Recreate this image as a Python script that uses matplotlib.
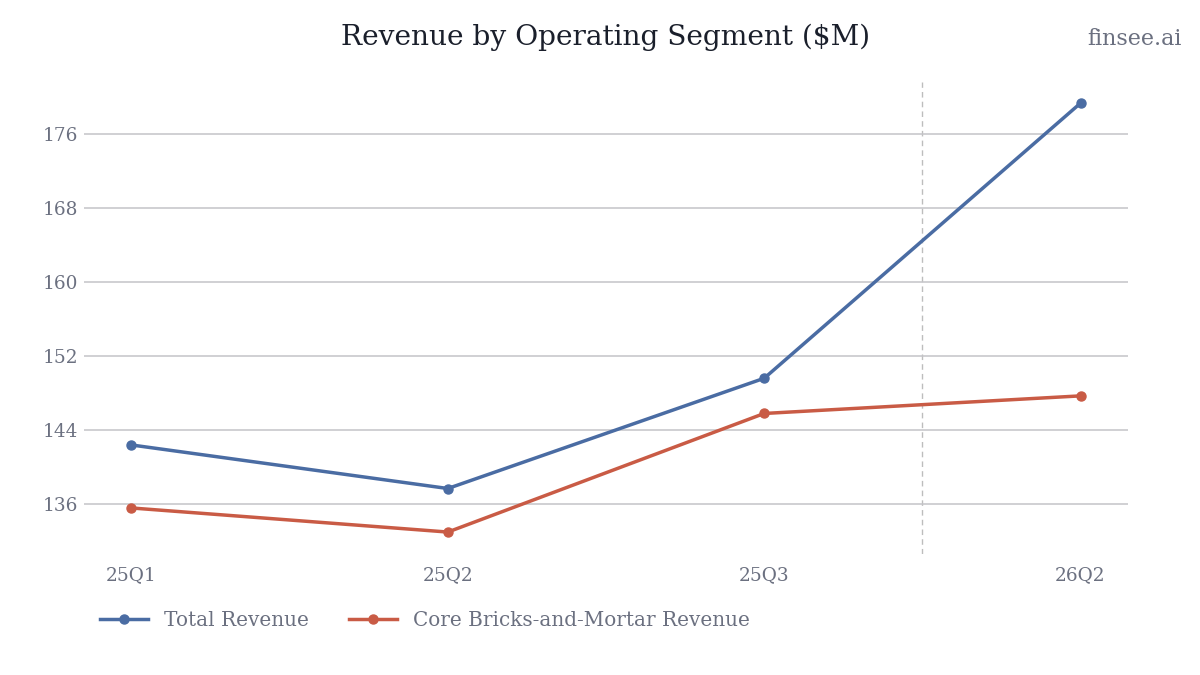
import matplotlib
matplotlib.use("Agg")
import matplotlib.pyplot as plt

quarters = ["25Q1", "25Q2", "25Q3", "26Q2"]
total_revenue = [142.4, 137.7, 149.6, 179.3]
core_revenue = [135.6, 133.0, 145.8, 147.7]
y_ticks = [136, 144, 152, 160, 168, 176]

BLUE = "#4a6ca3"
RED = "#c95b45"
GREY_TXT = "#6b7080"

plt.rcParams["font.family"] = ["DejaVu Serif"]

fig = plt.figure(figsize=(12, 6.75), dpi=100)
ax = fig.add_axes([0.07, 0.18, 0.87, 0.699])

x = list(range(len(quarters)))
ax.plot(x, total_revenue, color=BLUE, linewidth=2.5, marker="o", markersize=6.5,
        label="Total Revenue")
ax.plot(x, core_revenue, color=RED, linewidth=2.5, marker="o", markersize=6.5,
        label="Core Bricks-and-Mortar Revenue")

# separator between reported and latest quarter
ax.axvline(2.5, color="#bdbdbd", linewidth=1, linestyle=(0, (4, 3)), zorder=0)

ax.set_xticks(x)
ax.set_xticklabels(quarters)
ax.set_yticks(y_ticks)
ax.tick_params(axis="both", length=0, labelsize=13.3, labelcolor=GREY_TXT)
ax.tick_params(axis="x", pad=9)
ax.tick_params(axis="y", pad=4)
ax.grid(axis="y", color="#c4c4c8", linewidth=1.1)
ax.set_axisbelow(True)
for side in ax.spines.values():
    side.set_visible(False)

fig.text(0.505, 0.944, "Revenue by Operating Segment ($M)", ha="center", va="center",
         fontsize=20.2, color="#1a1f2b")
fig.text(0.985, 0.942, "finsee.ai", ha="right", va="center", fontsize=16, color=GREY_TXT)

leg = ax.legend(loc="upper left", bbox_to_anchor=(0.008, -0.105), ncol=2, frameon=False,
                fontsize=14.4, handlelength=2.4, columnspacing=2.0, handletextpad=0.8,
                borderaxespad=0.0)
for t in leg.get_texts():
    t.set_color(GREY_TXT)

fig.savefig("out.png", dpi=100)
